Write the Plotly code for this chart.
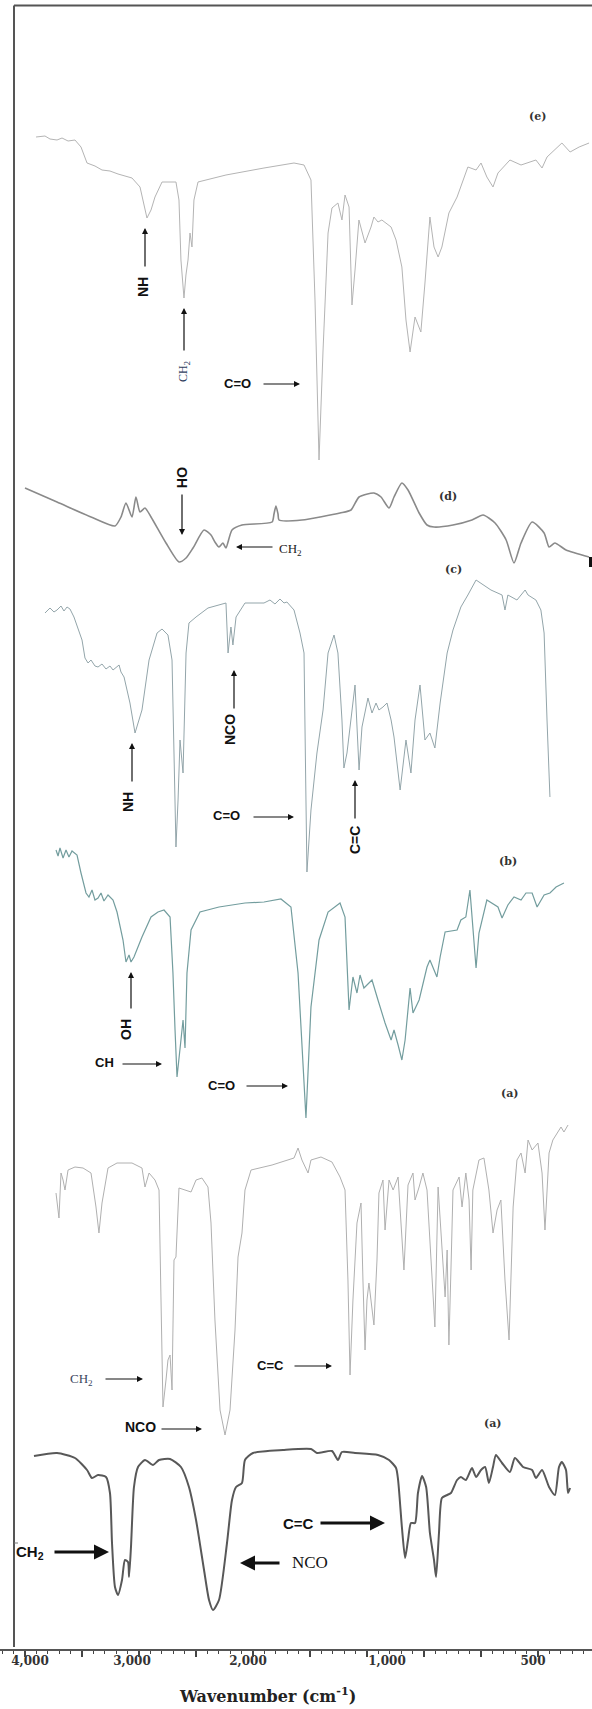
import numpy as np
import plotly.graph_objects as go

W, H = 592, 1709

# ---- wavenumber scale (label values and where they sit on the axis) ----
TICK_WN = [4000, 3000, 2000, 1000, 500]
TICK_TEXT = ["4,000", "3,000", "2,000", "1,000", "500"]
TICK_POS = [30, 132, 248, 387, 533]

# ---- spectra: wavenumber (cm-1) and transmittance (a.u., 0 = deepest band) ----
E_WN = [3941, 3853, 3804, 3735, 3686, 3627, 3559, 3500, 3441, 3363, 3294, 3216, 3137, 3000, 2931, 2897,
        2871, 2836, 2802, 2741, 2621, 2595, 2578, 2552, 2535, 2517, 2500, 2483, 2466, 2431, 2190, 1885,
        1669, 1597, 1547, 1518, 1489, 1460, 1424, 1396, 1353, 1324, 1302, 1273, 1252, 1230, 1202, 1158,
        1115, 1094, 1065, 1037, 986, 969, 949, 935, 921, 904, 884, 870, 853, 839, 825, 812, 788, 760,
        723, 695, 678, 658, 637, 620, 579, 541, 490, 469, 452, 401, 373, 342, 308]
E_T = [323, 324, 321, 320, 322, 319, 320, 313, 297, 294, 290, 289, 286, 282, 273, 255,
       242, 250, 263, 278, 278, 260, 200, 162, 185, 200, 227, 213, 260, 278, 285, 292,
       297, 295, 280, 160, 0, 110, 227, 252, 257, 240, 265, 253, 155, 190, 240, 217,
       233, 243, 238, 240, 233, 220, 193, 140, 108, 143, 128, 177, 243, 213, 203, 213, 247, 263,
       293, 290, 297, 283, 273, 287, 300, 295, 300, 292, 303, 317, 308, 313, 317]

D_WN = [4049, 3735, 3402, 3167, 3108, 3059, 3000, 2966, 2931, 2888, 2836, 2707, 2595, 2534, 2474, 2379,
        2319, 2285, 2250, 2216, 2190, 2138, 2052, 1827, 1813, 1799, 1784, 1777, 1612, 1338, 1259, 1201,
        1094, 1043, 993, 976, 949, 928, 890, 863, 839, 774, 709, 671, 630, 592, 565, 541, 503, 462,
        445, 425, 387, 308]
D_T = [75, 61, 46, 37, 46, 60, 46, 66, 51, 55, 46, 20, 1, 5, 15, 33,
       28, 21, 16, 20, 15, 33, 38, 41, 49, 57, 49, 43, 43, 50, 53, 66,
       70, 66, 55, 66, 80, 73, 50, 38, 36, 38, 43, 48, 40, 23, 0, 20, 41, 30,
       16, 20, 13, 6]

C_WN = [3853, 3804, 3765, 3735, 3696, 3667, 3637, 3608, 3569, 3520, 3490, 3461, 3431, 3402, 3363, 3333,
        3294, 3255, 3216, 3186, 3127, 3108, 3078, 3020, 2974, 2914, 2853, 2784, 2741, 2690, 2655, 2638,
        2621, 2603, 2586, 2560, 2534, 2509, 2448, 2345, 2190, 2172, 2147, 2130, 2103, 2026, 1885, 1842,
        1806, 1770, 1741, 1720, 1669, 1626, 1597, 1583, 1576, 1547, 1504, 1460, 1424, 1381, 1353, 1324,
        1310, 1288, 1259, 1230, 1201, 1180, 1137, 1108, 1079, 1058, 1029, 1000, 986, 976, 955, 935,
        918, 904, 887, 870, 853, 836, 818, 794, 774, 747, 723, 695, 644, 606, 596, 586, 555, 527, 517,
        490, 473, 462, 452, 442]
C_T = [259, 264, 260, 262, 266, 261, 265, 263, 255, 242, 232, 214, 209, 212, 206, 205,
       208, 203, 206, 202, 207, 200, 195, 169, 139, 162, 212, 239, 243, 237, 212, 119,
       25, 72, 132, 99, 219, 249, 255, 264, 269, 219, 245, 227, 255, 269, 269, 272,
       268, 273, 269, 270, 262, 239, 219, 72, 0, 62, 119, 162, 219, 237, 219, 152,
       104, 119, 152, 187, 102, 145, 174, 159, 169, 162, 165, 169, 152, 135, 82, 132,
       99, 152, 187, 132, 139, 124, 169, 219, 242, 265, 277, 292, 282, 277, 262, 277, 272, 282, 277,
       272, 262, 239, 152, 75]

B_WN = [3745, 3725, 3706, 3676, 3647, 3618, 3588, 3539, 3500, 3451, 3422, 3392, 3363, 3333, 3304, 3275,
        3235, 3186, 3147, 3088, 3059, 3029, 3010, 2983, 2914, 2836, 2776, 2724, 2672, 2647, 2629, 2612,
        2578, 2560, 2543, 2526, 2491, 2414, 2250, 2026, 1885, 1763, 1691, 1640, 1583, 1547, 1489, 1424,
        1338, 1302, 1273, 1245, 1216, 1194, 1166, 1108, 1065, 1014, 986, 976, 962, 949, 938, 928, 921,
        911, 890, 863, 853, 829, 818, 801, 760, 747, 730, 716, 702, 695, 685, 658, 620, 606, 586, 565,
        541, 524, 503, 486, 462, 442, 421, 394]
B_T = [268, 262, 270, 260, 268, 261, 267, 263, 245, 225, 221, 228, 218, 220, 225, 217,
       223, 218, 206, 178, 156, 163, 156, 161, 181, 201, 206, 208, 201, 145, 88, 41,
       78, 98, 70, 145, 188, 206, 211, 215, 216, 219, 211, 145, 0, 111, 178, 206,
       215, 201, 108, 141, 125, 143, 130, 138, 118, 95, 78, 88, 73, 58, 78, 111, 130,
       105, 118, 151, 158, 141, 161, 186, 188, 198, 201, 228, 178, 150, 185, 218, 211, 200, 213, 221,
       218, 225, 225, 211, 223, 225, 231, 235]

A1_WN = [3745, 3716, 3696, 3676, 3657, 3627, 3559, 3480, 3402, 3353, 3324, 3294, 3235, 3147, 3000, 2914,
         2888, 2853, 2802, 2767, 2750, 2733, 2707, 2690, 2672, 2655, 2638, 2621, 2595, 2543, 2491, 2448,
         2397, 2345, 2319, 2285, 2241, 2198, 2155, 2112, 2086, 2052, 2026, 1978, 1827, 1669, 1640, 1612,
         1568, 1547, 1475, 1396, 1338, 1302, 1281, 1266, 1245, 1216, 1187, 1173, 1158, 1144, 1130, 1094,
         1072, 1058, 1029, 1014, 993, 979, 962, 942, 928, 911, 904, 890, 877, 863, 849, 836, 825, 815,
         801, 794, 788, 781, 774, 753, 743, 730, 719, 712, 706, 685, 668, 651, 637, 623, 610, 596, 582,
         568, 555, 541, 527, 517, 503, 483, 469, 459, 445, 432, 418, 404, 394, 380]
A1_T = [242, 217, 262, 255, 245, 265, 268, 267, 262, 228, 202, 232, 267, 272, 272, 267,
        248, 262, 255, 245, 135, 28, 55, 75, 80, 45, 175, 178, 247, 245, 243, 255,
        257, 248, 212, 115, 25, 0, 25, 105, 178, 202, 245, 265, 270, 277, 287, 275,
        262, 275, 278, 273, 258, 245, 155, 60, 135, 212, 232, 155, 85, 135, 152, 110,
        175, 242, 255, 205, 255, 245, 258, 165, 250, 262, 235, 248, 262, 245, 175, 108, 248, 205,
        138, 185, 90, 165, 245, 258, 228, 262, 235, 165, 245, 275, 277, 245, 202, 225, 235, 155, 95,
        228, 275, 282, 262, 295, 285, 292, 262, 205, 282, 295, 302, 308, 303, 310]

A0_WN = [3961, 3735, 3559, 3441, 3392, 3333, 3255, 3216, 3196, 3167, 3137, 3098, 3069, 3039, 3029, 3010,
         2983, 2948, 2888, 2819, 2767, 2672, 2578, 2509, 2448, 2379, 2336, 2302, 2250, 2181, 2138, 2103,
         2052, 2026, 1964, 1748, 1547, 1504, 1396, 1353, 1324, 1230, 1065, 993, 969, 962, 949, 938, 928,
         918, 904, 894, 880, 866, 853, 839, 832, 822, 812, 794, 781, 760, 747, 730, 709, 695, 678, 664,
         651, 637, 627, 606, 579, 562, 534, 503, 490, 469, 445, 425, 411, 401, 387, 380, 373]
A0_T = [154, 157, 152, 140, 132, 135, 133, 117, 67, 23, 15, 30, 50, 48, 33, 63,
        123, 143, 150, 145, 150, 151, 143, 123, 90, 40, 10, 0, 10, 67, 110, 123,
        127, 150, 157, 160, 161, 157, 159, 150, 158, 157, 155, 150, 142, 130, 83, 52, 70,
        87, 87, 117, 134, 123, 77, 50, 33, 77, 112, 115, 117, 130, 133, 130, 142, 133, 140, 143,
        127, 143, 155, 147, 138, 152, 143, 140, 132, 140, 123, 115, 143, 148, 140, 117, 122]


def wn_axis(wn):
    """Place wavenumbers on the horizontal axis using the labelled scale."""
    wn = np.asarray(wn, dtype=float)
    xp = -np.asarray(TICK_WN, dtype=float)
    fp = np.asarray(TICK_POS, dtype=float)
    u = np.interp(-wn, xp, fp)
    lo = wn > TICK_WN[0]
    u[lo] = fp[0] + (-wn[lo] - xp[0]) * (fp[1] - fp[0]) / (xp[1] - xp[0])
    hi = wn < TICK_WN[-1]
    u[hi] = fp[-1] + (-wn[hi] - xp[-1]) * (fp[-1] - fp[-2]) / (xp[-1] - xp[-2])
    return u


fig = go.Figure()

# stacked traces: (wavenumbers, transmittance, vertical offset, colour, width, shape)
stack = [
    (E_WN, E_T, 1249, "#b4b4b4", 1.0, "linear"),
    (D_WN, D_T, 1146, "#8a8a8a", 1.6, "spline"),
    (C_WN, C_T, 837, "#93a5aa", 1.0, "linear"),
    (B_WN, B_T, 591, "#739d9e", 1.2, "linear"),
    (A1_WN, A1_T, 274, "#b0b0b0", 1.0, "linear"),
    (A0_WN, A0_T, 99, "#585858", 2.0, "spline"),
]
for wn, t, off, col, lw, shp in stack:
    fig.add_trace(go.Scatter(
        x=wn_axis(wn), y=np.asarray(t, dtype=float) + off, mode="lines",
        line=dict(color=col, width=lw, shape=shp, smoothing=0.6),
        hoverinfo="skip", showlegend=False))

# carrier trace for the tick-only axis
fig.add_trace(go.Scatter(x=[0, W], y=[-10, -10], xaxis="x2", mode="lines",
                         line=dict(width=0), hoverinfo="skip", showlegend=False))


def Y(py):
    return H - py


SANS = "Liberation Sans"
SERIF = "Liberation Serif"
ann = []


def text(s, px, py, size=13, family=SANS, weight="bold", angle=0, color="#111111"):
    ann.append(dict(x=px, y=Y(py), xref="x", yref="y", text=s, showarrow=False,
                    textangle=angle, xanchor="center", yanchor="middle",
                    font=dict(family=family, size=size, color=color, weight=weight)))


def arrow(x0, y0, x1, y1, width=1.2, size=1.0):
    ann.append(dict(x=x1, y=Y(y1), ax=x0, ay=Y(y0), xref="x", yref="y", axref="x", ayref="y",
                    text="", showarrow=True, arrowhead=2, arrowsize=size, arrowwidth=width,
                    arrowcolor="#111111", standoff=0, startstandoff=0))


PANEL = dict(size=11, family="DejaVu Serif", weight="bold", color="#333333")

# (e)
text("(e)", 537, 116, **PANEL)
text("NH", 143, 287, size=14, angle=-90)
arrow(145, 268, 145, 228)
text("CH<sub>2</sub>", 184, 372, size=12, family=SERIF, weight="normal", angle=-90, color="#2f4060")
arrow(184, 352, 184, 308)
text("C=O", 237, 383, size=13)
arrow(262, 384, 300, 384)

# (d)
text("(d)", 448, 496, **PANEL)
text("OH", 182, 477, size=14, angle=90)
arrow(182, 493, 182, 535)
text("CH<sub>2</sub>", 290, 549, size=13, family=SERIF, weight="normal", color="#222222")
arrow(274, 547, 236, 547)

# (c)
text("(c)", 453, 569, **PANEL)
text("NH", 128, 802, size=14, angle=-90)
arrow(132, 783, 132, 743)
text("NCO", 230, 730, size=14, angle=-90)
arrow(234, 710, 234, 670)
text("C=O", 226, 815, size=13)
arrow(252, 817, 294, 817)
text("C=C", 355, 840, size=14, angle=-90)
arrow(355, 820, 355, 780)

# (b)
text("(b)", 508, 861, **PANEL)
text("OH", 126, 1030, size=14, angle=-90)
arrow(131, 1010, 131, 972)
text("CH", 104, 1062, size=13)
arrow(121, 1064, 162, 1064)
text("C=O", 221, 1085, size=13)
arrow(245, 1086, 288, 1086)

# upper (a)
text("(a)", 510, 1093, **PANEL)
text("CH<sub>2</sub>", 81, 1379, size=13, family=SERIF, weight="normal", color="#3a4660")
arrow(104, 1379, 143, 1379)
text("NCO", 140, 1427, size=14)
arrow(160, 1429, 202, 1429)
text("C=C", 270, 1365, size=13)
arrow(293, 1366, 332, 1366)

# bottom (a)
text("(a)", 493, 1423, **PANEL)
text("CH<sub>2</sub>", 30, 1552, size=15, weight="bold", color="#111111")
arrow(53, 1552, 109, 1552, width=3, size=1.0)
text("NCO", 310, 1562, size=17, family=SERIF, weight="normal")
arrow(281, 1563, 240, 1563, width=3, size=1.0)
text("C=C", 298, 1523, size=15, weight="bold")
arrow(319, 1523, 385, 1523, width=3, size=1.0)

# axis title
text("Wavenumber (cm<sup>-1</sup>)", 267, 1695, size=16, family="DejaVu Serif", weight="bold",
     color="#222222")

# frame lines and edge marks
shapes = [
    dict(type="line", xref="x", yref="y", x0=14, x1=W, y0=Y(5.5), y1=Y(5.5),
         line=dict(color="#555555", width=2)),
    dict(type="line", xref="x", yref="y", x0=14, x1=14, y0=Y(5.5), y1=Y(1647),
         line=dict(color="#555555", width=2)),
    dict(type="line", xref="x", yref="y", x0=14, x1=18, y0=Y(1543), y1=Y(1543),
         line=dict(color="#777777", width=1)),
    dict(type="rect", xref="x", yref="y", x0=589, x1=592, y0=Y(557), y1=Y(567),
         line=dict(width=0), fillcolor="#111111"),
]

axis_pos = (H - 1650) / H
fig.update_layout(
    width=W, height=H, margin=dict(l=0, r=0, t=0, b=0),
    paper_bgcolor="white", plot_bgcolor="white",
    xaxis=dict(range=[0, W], anchor="free", position=axis_pos, showgrid=False, zeroline=False,
               showline=True, linecolor="#555555", linewidth=2, ticks="",
               tickmode="array", tickvals=TICK_POS, ticktext=TICK_TEXT,
               tickfont=dict(family="DejaVu Serif", size=12, color="#333333", weight="bold")),
    xaxis2=dict(range=[0, W], overlaying="x", anchor="free", position=axis_pos, side="bottom",
                showgrid=False, zeroline=False, showline=False, showticklabels=False,
                ticks="outside", ticklen=6, tickwidth=1.5, tickcolor="#444444",
                tickmode="linear", tick0=25, dtick=57,
                minor=dict(ticks="outside", ticklen=3, tickwidth=1.2, tickcolor="#444444",
                           tick0=25, dtick=11.4, showgrid=False)),
    yaxis=dict(range=[0, H], visible=False, fixedrange=True),
    annotations=ann, shapes=shapes, showlegend=False,
)

fig.write_html("out.html")
